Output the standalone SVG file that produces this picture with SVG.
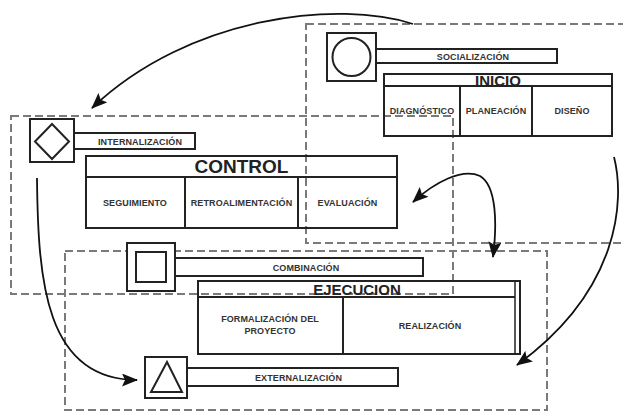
<svg xmlns="http://www.w3.org/2000/svg" width="623" height="411" viewBox="0 0 623 411">
<style>
.dash{fill:none;stroke:#7a7a7a;stroke-width:2;stroke-dasharray:8 4}
.box{fill:none;stroke:#222;stroke-width:2}
.icon{fill:#fff;stroke:#222;stroke-width:2}
.bar{fill:#fff;stroke:#222;stroke-width:2}
.lbl{font-family:"Liberation Sans",Arial,sans-serif;font-weight:bold;font-size:9px;fill:#333;text-anchor:middle;letter-spacing:0.1px}
.hdr{font-family:"Liberation Sans",Arial,sans-serif;font-weight:bold;fill:#222;text-anchor:middle}
.con{fill:none;stroke:#111;stroke-width:1.8}
</style>
<defs>
<marker id="ah" viewBox="0 0 16 13" refX="15" refY="6.5" markerWidth="17" markerHeight="13" markerUnits="userSpaceOnUse" orient="auto-start-reverse">
<path d="M0,0 L16,6.5 L0,13 L3,6.5 z" fill="#111"/>
</marker>
</defs>
<rect width="623" height="411" fill="#fff"/>

<g id="zones">
<rect class="dash" x="306" y="24" width="330" height="219"/>
<rect class="dash" x="11" y="116" width="442" height="178"/>
<rect class="dash" x="65" y="251" width="482" height="159"/>
</g>

<g id="socializacion">
<rect class="icon" x="327" y="33" width="49" height="48"/>
<circle cx="351.5" cy="57" r="19" fill="none" stroke="#222" stroke-width="2"/>
<rect class="bar" x="376" y="49" width="181" height="14"/>
<text class="lbl" x="473" y="59.5">SOCIALIZACIÓN</text>
</g>

<g id="inicio">
<rect class="box" x="384" y="74" width="228" height="62"/>
<line class="box" x1="384" y1="86" x2="612" y2="86"/>
<line class="box" x1="460" y1="86" x2="460" y2="136"/>
<line class="box" x1="532" y1="86" x2="532" y2="136"/>
<text class="hdr" x="498" y="86" font-size="15">INICIO</text>
<text class="lbl" x="422" y="114">DIAGNÓSTICO</text>
<text class="lbl" x="496" y="114">PLANEACIÓN</text>
<text class="lbl" x="572" y="114">DISEÑO</text>
</g>

<g id="internalizacion">
<rect class="icon" x="30" y="119" width="44" height="43"/>
<polygon points="52,124 69,141.5 52,159 35,141.5" fill="none" stroke="#222" stroke-width="2"/>
<rect class="bar" x="74" y="133" width="121" height="16"/>
<text class="lbl" x="140" y="144.5">INTERNALIZACIÓN</text>
</g>

<g id="control">
<rect class="box" x="86" y="156" width="311" height="72"/>
<line class="box" x1="86" y1="177" x2="397" y2="177"/>
<line class="box" x1="185" y1="177" x2="185" y2="228"/>
<line class="box" x1="298" y1="177" x2="298" y2="228"/>
<text class="hdr" x="241.5" y="172.5" font-size="19">CONTROL</text>
<text class="lbl" x="135" y="205.5">SEGUIMIENTO</text>
<text class="lbl" x="241.5" y="205.5">RETROALIMENTACIÓN</text>
<text class="lbl" x="347.5" y="205.5">EVALUACIÓN</text>
</g>

<g id="combinacion">
<rect class="icon" x="127" y="243" width="48" height="48"/>
<rect x="136" y="252" width="30" height="30" fill="none" stroke="#222" stroke-width="2"/>
<rect class="bar" x="175" y="258" width="248" height="18"/>
<text class="lbl" x="306" y="270.5">COMBINACIÓN</text>
</g>

<g id="ejecucion">
<rect class="box" x="198" y="281" width="322" height="73"/>
<line class="box" x1="198" y1="297" x2="515" y2="297"/>
<line x1="515" y1="281" x2="515" y2="354" stroke="#222" stroke-width="1.5"/>
<line class="box" x1="343" y1="297" x2="343" y2="354"/>
<text class="hdr" x="357" y="294.5" font-size="15">EJECUCION</text>
<text class="lbl" x="270" y="321.5">FORMALIZACIÓN DEL</text>
<text class="lbl" x="270" y="334">PROYECTO</text>
<text class="lbl" x="430" y="329">REALIZACIÓN</text>
</g>

<g id="externalizacion">
<rect class="icon" x="145" y="357" width="42" height="41"/>
<polygon points="167,362 182,392 151,392" fill="none" stroke="#222" stroke-width="2"/>
<rect class="bar" x="187" y="368" width="211" height="18"/>
<text class="lbl" x="298.5" y="380.5">EXTERNALIZACIÓN</text>
</g>

<g id="connectors">
<path class="con" d="M413,24 C340,0 190,15 92,108" marker-end="url(#ah)"/>
<path class="con" d="M614,157 C625,200 620,290 517,365" marker-end="url(#ah)"/>
<path class="con" d="M413,202 C435,182 462,168 480,176 C497,186 497,225 493,257" marker-start="url(#ah)" marker-end="url(#ah)"/>
<path class="con" d="M37,178 C38,280 45,380 137,380" marker-end="url(#ah)"/>
</g>
</svg>
